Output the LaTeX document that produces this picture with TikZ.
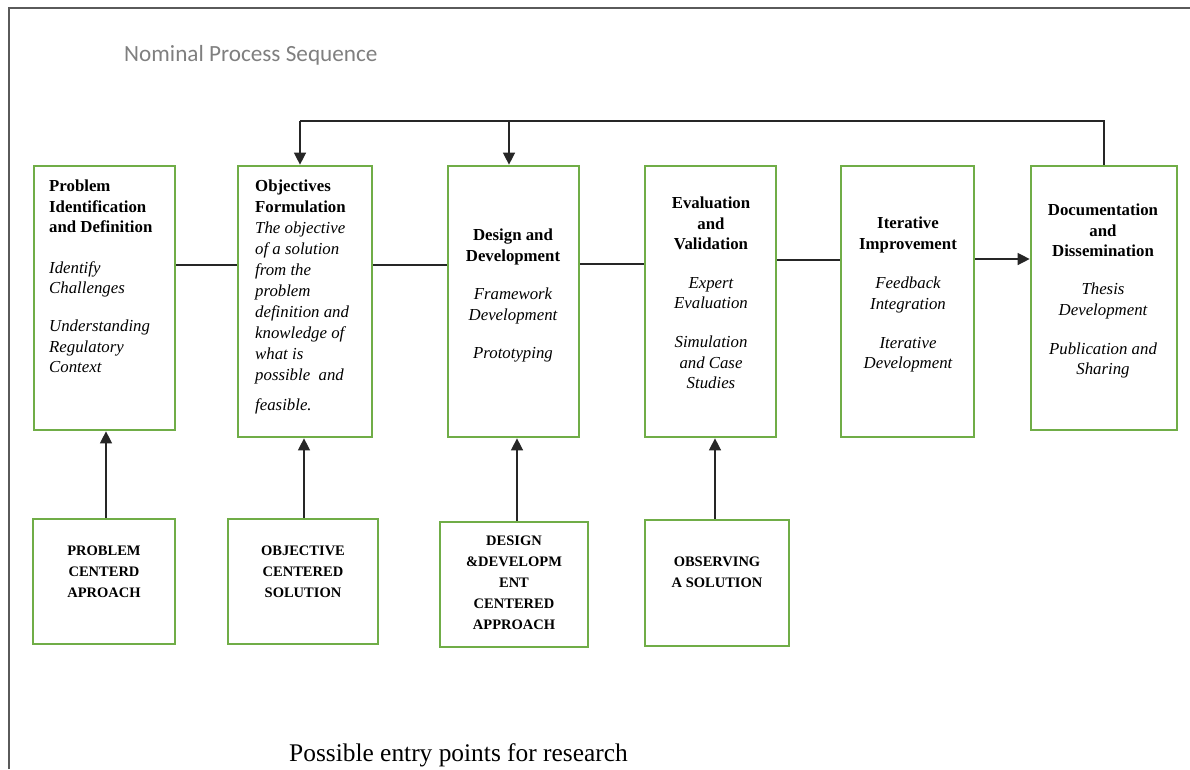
\documentclass[tikz,border=0pt]{standalone}
\usepackage{fontspec}
\setmainfont{Liberation Serif}
\newfontfamily\titlefont{Carlito}
\usetikzlibrary{arrows.meta}
\definecolor{boxgreen}{HTML}{70AD47}
\definecolor{framegray}{HTML}{5A5A5A}
\definecolor{titlegray}{HTML}{7F7F7F}
\begin{document}
\begin{tikzpicture}[x=1pt,y=-1pt,
  box/.style={draw=boxgreen, line width=2.7pt, rectangle, inner sep=0pt},
  headtext/.style={inner sep=0pt, font=\fontsize{16.8}{20.5}\selectfont\bfseries},
  bodytext/.style={inner sep=0pt, font=\fontsize{16.8}{20.5}\selectfont\itshape},
  entrytext/.style={inner sep=0pt, align=center, font=\fontsize{14.5}{21}\selectfont\bfseries},
  link/.style={draw=black!85, line width=1.4pt},
  arr/.style={link, -{Triangle[length=12pt,width=12pt]}}]
\useasboundingbox (0,0) rectangle (1190,769);
% frame
\draw[framegray, line width=2pt] (9,769) -- (9,8) -- (1190,8);
% title
\node[anchor=west, inner sep=0pt, text=titlegray, font=\titlefont\fontsize{23.2}{27}\selectfont] (title) at (124,55) {Nominal Process Sequence};
% process boxes
\node[box, minimum width=141pt, minimum height=264pt] (b1) at (104.5,298) {};
\node[box, minimum width=134pt, minimum height=271pt] (b2) at (305,301.5) {};
\node[box, minimum width=131pt, minimum height=271pt] (b3) at (513.5,301.5) {};
\node[box, minimum width=131pt, minimum height=271pt] (b4) at (710.5,301.5) {};
\node[box, minimum width=133pt, minimum height=271pt] (b5) at (907.5,301.5) {};
\node[box, minimum width=146pt, minimum height=264pt] (b6) at (1104,298) {};
% box texts
\node[headtext, anchor=north west, align=left] (t1h) at (49,180) {Problem\\Identification\\and Definition};
\node[bodytext, anchor=north west, align=left] (t1b) at (49,261) {Identify\\Challenges\\[17.5pt]Understanding\\Regulatory\\Context};
\node[headtext, anchor=north west, align=left] (t2h) at (255,180) {Objectives\\Formulation};
\node[bodytext, anchor=north west, align=left, font=\fontsize{16.8}{21}\selectfont\itshape] (t2b) at (255,222) {The objective\\of a solution\\from the\\problem\\definition and\\knowledge of\\what is\\possible~ and\\[9pt]feasible.};
\node[headtext, anchor=north, align=center] (t3h) at (513,229) {Design and\\Development};
\node[bodytext, anchor=north, align=center] (t3b) at (513,288) {Framework\\Development\\[17.5pt]Prototyping};
\node[headtext, anchor=north, align=center] (t4h) at (711,197) {Evaluation\\and\\Validation};
\node[bodytext, anchor=north, align=center] (t4b) at (711,277) {Expert\\Evaluation\\[18.5pt]Simulation\\and Case\\Studies};
\node[headtext, anchor=north, align=center] (t5h) at (908,217) {Iterative\\Improvement};
\node[bodytext, anchor=north, align=center] (t5b) at (908,277) {Feedback\\Integration\\[18.5pt]Iterative\\Development};
\node[headtext, anchor=north, align=center] (t6h) at (1103,204) {Documentation\\and\\Dissemination};
\node[bodytext, anchor=north, align=center] (t6b) at (1103,283) {Thesis\\Development\\[18.5pt]Publication and\\Sharing};
% entry boxes
\node[box, minimum width=142pt, minimum height=125pt] (e1) at (104,581.5) {};
\node[box, minimum width=150pt, minimum height=125pt] (e2) at (303,581.5) {};
\node[box, minimum width=148pt, minimum height=125pt] (e3) at (514,584.5) {};
\node[box, minimum width=144pt, minimum height=126pt] (e4) at (717,583) {};
\node[entrytext, anchor=north] (u1) at (104,546) {PROBLEM\\CENTERD\\APROACH};
\node[entrytext, anchor=north] (u2) at (303,546) {OBJECTIVE\\CENTERED\\SOLUTION};
\node[entrytext, anchor=north] (u3) at (514,536) {DESIGN\\\&DEVELOPM\\ENT\\CENTERED\\APPROACH};
\node[entrytext, anchor=north] (u4) at (717,557) {OBSERVING\\A SOLUTION};
% caption
\node[anchor=base west, inner sep=0pt, font=\fontsize{25.4}{30}\selectfont] (cap) at (289,761) {Possible entry points for research};
% horizontal links
\coordinate (h12) at (0,265);
\coordinate (h34) at (0,264);
\coordinate (h45) at (0,260);
\coordinate (h56) at (0,259);
\draw[link] (b1.east |- h12) -- (b2.west |- h12);
\draw[link] (b2.east |- h12) -- (b3.west |- h12);
\draw[link] (b3.east |- h34) -- (b4.west |- h34);
\draw[link] (b4.east |- h45) -- (b5.west |- h45);
\draw[arr] (b5.east |- h56) -- (b6.west |- h56);
% feedback loop
\coordinate (fbl) at (300,121);
\coordinate (fbm) at (509,121);
\draw[link] (b6.north) |- (fbl);
\draw[arr] (fbl) -- (b2.north -| fbl);
\draw[arr] (fbm) -- (b3.north -| fbm);
% entry arrows
\coordinate (v1) at (106,0);
\coordinate (v2) at (304,0);
\coordinate (v3) at (517,0);
\coordinate (v4) at (715,0);
\draw[arr] (e1.north -| v1) -- (b1.south -| v1);
\draw[arr] (e2.north -| v2) -- (b2.south -| v2);
\draw[arr] (e3.north -| v3) -- (b3.south -| v3);
\draw[arr] (e4.north -| v4) -- (b4.south -| v4);
\end{tikzpicture}
\end{document}
